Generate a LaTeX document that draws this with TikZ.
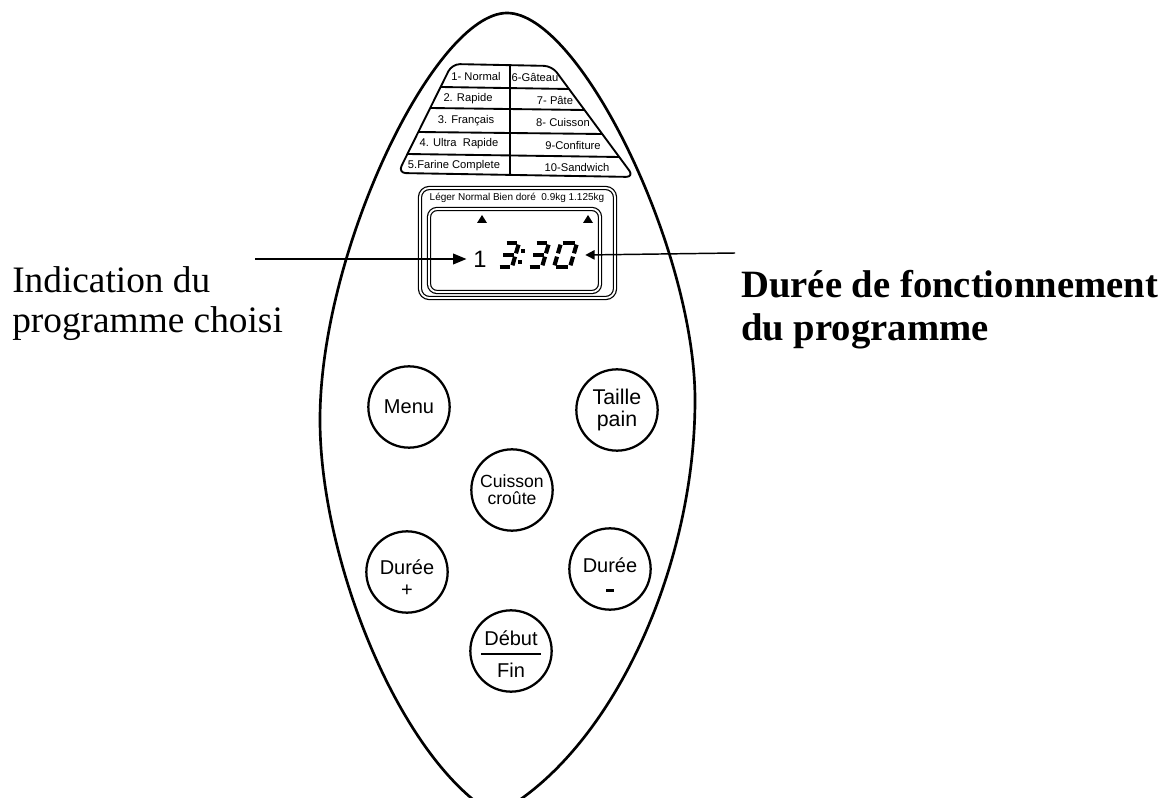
\documentclass[tikz,border=0pt]{standalone}
\usepackage{fontspec}
\setmainfont{Liberation Serif}
\newfontfamily\arialf{Liberation Sans}
\usetikzlibrary{arrows.meta}
\begin{document}
\begin{tikzpicture}[x=0.75pt,y=-0.75pt,
  outline/.style={line width=2pt},
  tbl/.style={line width=1.4pt, line join=round},
  btn/.style={circle, draw, line width=1.7pt, minimum size=61pt, inner sep=0pt, align=center},
  bfont/.style={font=\arialf\fontsize{15}{16}\selectfont},
  tbltxt/.style={font=\arialf\fontsize{8.4}{9}\selectfont, inner sep=0pt},
  dbl/.style={double, line width=0.9pt, double distance=1.4pt, rounded corners=7pt},
  seg/.style={line width=3.1pt, shorten <=1.3pt, shorten >=1.3pt},
  arr/.style={line width=1.1pt, -{Triangle[length=10pt,width=8pt]}},
  arrR/.style={line width=1.1pt, -{Triangle[length=7pt,width=7pt]}},
  lbl/.style={font=\fontsize{28}{30}\selectfont, anchor=base west, inner sep=0pt},
  lblb/.style={font=\bfseries\fontsize{29}{30}\selectfont, anchor=base west, inner sep=0pt}
]
\useasboundingbox (0,0) rectangle (1168,798);
\clip (0,0) rectangle (1168,798);

% outer body
\draw[outline] (507,13) .. controls (580,13) and (695,250) .. (695,400)
  .. controls (695,570) and (610,755) .. (495,815)
  .. controls (400,760) and (320,560) .. (320,420)
  .. controls (320,250) and (435,13) .. (507,13) -- cycle;

% program table
\draw[tbl, rounded corners=6pt] (452,64) -- (552,66) -- (634,177) -- (398,173) -- cycle;
\draw[tbl] (440.6,87) -- (569,89);
\draw[tbl] (430.2,108) -- (584.5,110);
\draw[tbl] (418.3,132) -- (602.3,134);
\draw[tbl] (407.4,154) -- (619.2,157);
\draw[tbl] (510,65) -- (510,175);

\node[tbltxt] (p1) at (476,77) {1- Normal};
\node[tbltxt] (p2) at (468,98.5) {2. Rapide};
\node[tbltxt] (p3) at (466,121) {3. Français};
\node[tbltxt] (p4) at (459,144) {4. Ultra\ \ Rapide};
\node[tbltxt] (p5) at (454,165.5) {5.Farine Complete};
\node[tbltxt] (p6) at (535,77) {6-Gâteau};
\node[tbltxt] (p7) at (555,100) {7- Pâte};
\node[tbltxt] (p8) at (563,122.5) {8- Cuisson};
\node[tbltxt] (p9) at (573,146) {9-Confiture};
\node[tbltxt] (p10) at (577,167.5) {10-Sandwich};

% display
\draw[dbl] (420,188) rectangle (615,298);
\draw[dbl, rounded corners=6pt] (429,209) rectangle (600,292);
\node[font=\arialf\fontsize{7.5}{8}\selectfont, inner sep=0pt] (disptxt) at (517,198) {Léger Normal Bien doré\ \ 0.9kg 1.125kg};
\fill (477,223) -- (487,223) -- (482,215) -- cycle;
\fill (583,223) -- (593,223) -- (588,215) -- cycle;

\node[font=\arialf\fontsize{17.8}{18}\selectfont, inner sep=0pt] (one) at (480,259) {1};
\foreach \x in {498,528}{
  \draw[seg] ({\x+7},243) -- ({\x+21},243);
  \draw[seg] ({\x+21},243) -- ({\x+17.5},255);
  \draw[seg] ({\x+17.5},255) -- ({\x+14},267);
  \draw[seg] (\x,267) -- ({\x+14},267);
  \draw[seg] ({\x+3.5},255) -- ({\x+17.5},255);
}
\draw[seg] (561,243) -- (577,243);
\draw[seg] (577,243) -- (573.5,255);
\draw[seg] (573.5,255) -- (570,267);
\draw[seg] (554,267) -- (570,267);
\draw[seg] (557.5,255) -- (554,267);
\draw[seg] (561,243) -- (557.5,255);
\fill (520.5,249.5) rectangle (524.5,253.5);
\fill (518,260) rectangle (522,264);
\node[minimum width=72pt, minimum height=18pt, inner sep=0pt] (clock) at (537,255) {};

% buttons
\node[btn, bfont] (menu) at (409,407) {Menu};
\node[btn, font=\arialf\fontsize{16}{16.5}\selectfont] (taille) at (617,410) {Taille\\pain};
\node[btn, font=\arialf\fontsize{13.2}{12.5}\selectfont] (cuisson) at (512,490) {Cuisson\\croûte};
\node[btn, font=\arialf\fontsize{15}{17}\selectfont] (dplus) at (407,572) {\rule{0pt}{20pt}Durée\\+};
\node[btn, font=\arialf\fontsize{15}{15}\selectfont] (dmoins) at (610,569) {\rule{0pt}{20pt}Durée\\\rule{6pt}{2.2pt}};
\node[btn, font=\arialf\fontsize{15}{16}\selectfont] (debut) at (511,651) {\rule{0pt}{15pt}Début\\[-8.5pt]\rule{45pt}{1.3pt}\\[0.5pt]Fin};

% labels
\node[lbl] (l1) at (12,293) {Indication du};
\node[lbl] (l2) at (12,333) {programme choisi};
\node[lblb] (r1) at (741,298) {Durée de fonctionnement};
\node[lblb] (r2) at (741,341) {du programme};

% arrows
\coordinate (la) at (255,259);
\coordinate (ra) at (735,253);
\draw[arr, shorten >=5pt] (la) -- (one.west);
\draw[arrR] (ra) -- (clock.east);
\end{tikzpicture}
\end{document}
